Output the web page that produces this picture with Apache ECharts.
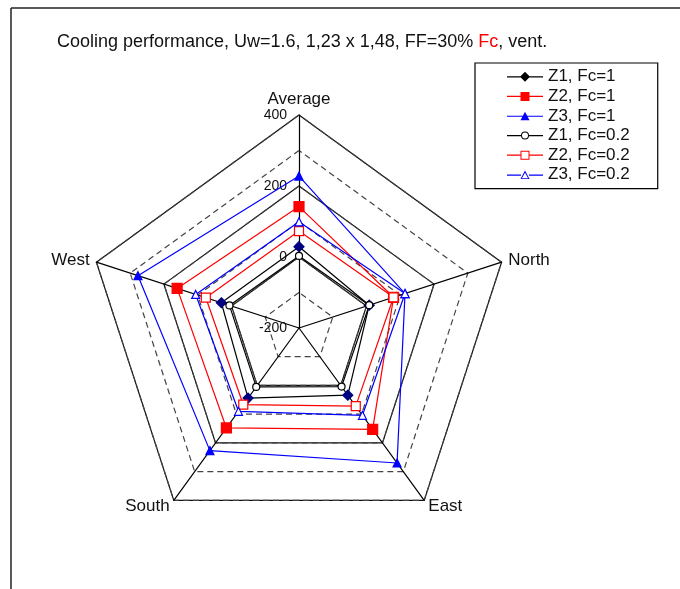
<!DOCTYPE html>
<html><head><meta charset="utf-8">
<script src="https://cdn.jsdelivr.net/npm/echarts@6/dist/echarts.min.js"></script>
<style>html,body{margin:0;padding:0;background:#fff}#c{width:680px;height:589px}</style>
</head><body><div id="c"></div>
<script>
// ---- data (order: Average, North, East, South, West) ----
const axes = ['Average', 'North', 'East', 'South', 'West'];
const axisMin = -200;
const axisMax = 400;
const seriesNames = ['Z1, Fc=1', 'Z2, Fc=1', 'Z3, Fc=1', 'Z1, Fc=0.2', 'Z2, Fc=0.2', 'Z3, Fc=0.2'];
const z1Fc1  = [29, 8, 34, 44, 30];
const z2Fc1  = [142, 80, 153, 148, 161];
const z3Fc1  = [228, 114, 270, 227, 277];
const z1Fc02 = [3, 8, 4, 5, 6];
const z2Fc02 = [73, 80, 72, 67, 76];
const z3Fc02 = [99, 114, 104, 90, 106];

const allValues = [z1Fc1, z2Fc1, z3Fc1, z1Fc02, z2Fc02, z3Fc02];
// ECharts places radar indicators counter-clockwise: Average, West, South, East, North
const order = [0, 4, 3, 2, 1];
const reorder = arr => order.map(i => arr[i]);

const FONT = 'Liberation Sans, Arial, sans-serif';
const styles = [
  { symbol: 'diamond',  size: 10, fill: '#000080', border: '#000080', line: '#000000', legend: '#000000' },
  { symbol: 'rect',     size: 10, fill: '#ff0000', border: '#ff0000', line: '#ff0000', legend: '#ff0000' },
  { symbol: 'triangle', size: 8,  fill: '#0000ff', border: '#0000ff', line: '#0000ff', legend: '#0000ff' },
  { symbol: 'circle',   size: 7,  fill: '#ffffff', border: '#000000', line: '#000000', legend: '#000000' },
  { symbol: 'rect',     size: 9,  fill: '#ffffff', border: '#ff0000', line: '#ff0000', legend: '#ff0000' },
  { symbol: 'triangle', size: 8,  fill: '#ffffff', border: '#0000ff', line: '#0000ff', legend: '#0000ff' }
];
const LINE_FULL = 'M0 5.4H36V6.6H0Z ';
const LINE_SPLIT = 'M0 5.4H14V6.6H0Z M22 5.4H36V6.6H22Z ';
const icons = [
  'path://' + LINE_FULL + 'M18 1L23 6L18 11L13 6Z',
  'path://' + LINE_FULL + 'M13.5 1.5H22.5V10.5H13.5Z',
  'path://' + LINE_FULL + 'M18 1.5L22.5 10L13.5 10Z',
  'path://' + LINE_SPLIT + 'M22 6A4 4 0 1 1 14 6A4 4 0 1 1 22 6Z M21 6A3 3 0 1 0 15 6A3 3 0 1 0 21 6Z',
  'path://' + LINE_SPLIT + 'M13.5 1.5H22.5V10.5H13.5Z M14.5 2.5V9.5H21.5V2.5Z',
  'path://' + LINE_SPLIT + 'M18 1.5L22.5 10L13.5 10Z M18 3.7L14.9 9.2H21.1Z'
];

const center = [299, 328];
const radius = 213;
const orderedAxes = reorder(axes);

const chart = echarts.init(document.getElementById('c'), null, { renderer: 'canvas' });
chart.setOption({
  animation: false,
  backgroundColor: '#fff',
  title: {
    left: 57, top: 33, padding: 0,
    text: '{a|Cooling performance, Uw=1.6, 1,23 x 1,48, FF=30% }{r|Fc}{a|, vent.}',
    textStyle: {
      rich: {
        a: { fontFamily: FONT, fontSize: 18, color: '#111', fontWeight: 'normal' },
        r: { fontFamily: FONT, fontSize: 18, color: '#ff0000', fontWeight: 'normal' }
      }
    }
  },
  legend: {
    orient: 'vertical',
    left: 475, top: 63,
    padding: [4, 28, 4, 32],
    backgroundColor: '#fff',
    borderColor: '#000', borderWidth: 1.2,
    itemWidth: 36, itemHeight: 12, itemGap: 0,
    textStyle: { fontFamily: FONT, fontSize: 17, color: '#111', lineHeight: 19.6 },
    data: seriesNames.map((n, i) => ({
      name: n, icon: icons[i],
      itemStyle: { color: styles[i].legend, borderWidth: 0 }
    }))
  },
  graphic: [
    { type: 'line', shape: { x1: 11, y1: 8, x2: 680, y2: 8 }, style: { stroke: '#222', lineWidth: 1.5 } },
    { type: 'line', shape: { x1: 11, y1: 8, x2: 11, y2: 589 }, style: { stroke: '#222', lineWidth: 1.5 } }
  ],
  radar: [
    {
      center: center, radius: radius, shape: 'polygon', splitNumber: 3, startAngle: 90,
      indicator: orderedAxes.map((n, i) => {
        const o = { name: n, min: axisMin, max: axisMax };
        if (i === 0) o.axisLabel = {
          show: true, fontFamily: FONT, fontSize: 14, color: '#111',
          align: 'right', verticalAlign: 'middle', padding: [0, 4, 0, 0]
        };
        return o;
      }),
      axisName: { fontFamily: FONT, fontSize: 17, color: '#111' },
      nameGap: 7,
      axisLine: { show: true, lineStyle: { color: '#000', width: 1.2 } },
      axisTick: { show: false },
      axisLabel: { show: false },
      splitLine: { lineStyle: { color: '#111', width: 1.2, type: 'solid' } },
      splitArea: { show: false }
    },
    {
      center: center, radius: radius, shape: 'polygon', splitNumber: 6, startAngle: 90,
      indicator: orderedAxes.map(() => ({ name: '', min: axisMin, max: axisMax })),
      axisName: { show: false },
      axisLine: { show: false },
      axisTick: { show: false },
      axisLabel: { show: false },
      splitLine: { lineStyle: { color: '#444', width: 1.2, type: [6, 4] } },
      splitArea: { show: false }
    }
  ],
  series: seriesNames.map((n, i) => ({
    type: 'radar',
    name: n,
    radarIndex: 0,
    symbol: styles[i].symbol,
    symbolSize: styles[i].size,
    itemStyle: { color: styles[i].fill, borderColor: styles[i].border, borderWidth: 1.2 },
    lineStyle: { color: styles[i].line, width: 1.2 },
    data: [{ name: n, value: reorder(allValues[i]) }]
  }))
});
</script>
</body></html>
